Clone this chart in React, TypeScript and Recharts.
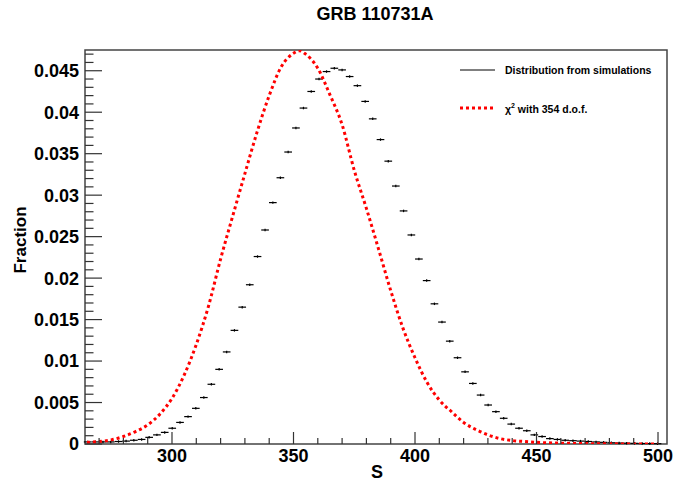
import React from "react";
import {
  ComposedChart,
  Line,
  Scatter,
  ErrorBar,
  XAxis,
  YAxis,
  ReferenceArea,
} from "recharts";

// simulated distribution, bin centres and fractions
const S_BINS = [
  265.3, 268.5, 271.6, 274.8, 278.0, 281.1, 284.3, 287.5, 290.6, 293.8, 297.0, 300.1,
  303.3, 306.6, 309.8, 313.1, 316.2, 319.4, 322.5, 325.7, 328.9, 332.0, 335.2, 338.3,
  341.5, 344.6, 347.8, 351.0, 354.1, 357.3, 360.5, 363.6, 366.8, 370.0, 373.1, 376.3,
  379.5, 382.6, 385.8, 389.0, 392.1, 395.3, 398.5, 401.6, 404.8, 408.0, 411.1, 414.3,
  417.5, 420.6, 423.8, 427.0, 430.1, 433.3, 436.5, 439.6, 442.8, 446.0, 449.1, 452.3,
  455.5, 458.6, 461.8, 465.0, 468.1, 471.3, 474.5, 477.6, 480.8, 484.0, 487.1, 490.3,
  493.5, 496.6, 499.8,
];
const SIM_FRAC = [
  0.00025, 0.00025, 0.00025, 0.00025, 0.0003, 0.00035, 0.00045, 0.00055, 0.0008, 0.0011, 0.0014, 0.0019,
  0.0026, 0.0033, 0.0043, 0.0056, 0.0072, 0.009, 0.0111, 0.0137, 0.0165, 0.0192, 0.0226, 0.0258,
  0.0291, 0.0321, 0.0352, 0.0381, 0.0405, 0.0425, 0.044, 0.0449, 0.0453, 0.0451, 0.0443, 0.0432,
  0.0413, 0.0392, 0.0367, 0.0341, 0.0311, 0.0281, 0.0252, 0.0223, 0.0197, 0.0169, 0.0147, 0.0124,
  0.0104, 0.0087, 0.0073, 0.0059, 0.0047, 0.0039, 0.0031, 0.0024, 0.0019, 0.0016, 0.0011, 0.0009,
  0.00065, 0.00055, 0.00045, 0.0004, 0.00035, 0.0003, 0.00025, 0.0002, 0.00015, 0.00012, 0.0001, 0.00008,
  0.00006, 0.00005, 0.00004,
];
const BIN_HALF = 1.58;
const SIM_ERR = 0.00015;

// chi2 curve with 354 d.o.f.
const CHI_S = [
  265, 270, 275, 280, 285, 290, 295, 300, 305, 310, 315, 320, 325, 330, 335, 340, 345, 350, 352.5,
  355, 360, 365, 370, 375, 380, 385, 390, 395, 400, 405, 410, 415, 420, 425, 430, 435, 440,
  445, 450, 460, 470, 480, 490, 500,
];
const CHI_FRAC = [
  0.0002, 0.0003, 0.0005, 0.0009, 0.0015, 0.0023, 0.0036, 0.0055, 0.0083, 0.012, 0.0166, 0.0223,
  0.0275, 0.0326, 0.0376, 0.042, 0.0455, 0.0471, 0.0474,
  0.047, 0.0453, 0.0421, 0.0385, 0.033, 0.0284,
  0.0235, 0.0185, 0.014, 0.0104, 0.0074, 0.0053, 0.0039, 0.0026, 0.00175, 0.0011, 0.00065, 0.00042,
  0.0003, 0.0002, 0.0001, 0.00005, 0.00002, 0.00001, 0,
];

const X_TICKS = [270, 280, 290, 300, 310, 320, 330, 340, 350, 360, 370, 380, 390, 400, 410, 420, 430, 440, 450, 460, 470, 480, 490, 500];
const X_DOMAIN = [264.2, 503.7];
const Y_DOMAIN = [0, 0.0475];

const FONT = '"Liberation Sans", Arial, sans-serif';

const simRows = S_BINS.map((s, i) => ({ s, frac: SIM_FRAC[i], xErr: BIN_HALF, yErr: SIM_ERR }));
const chiRows = CHI_S.map((s, i) => ({ s, chi: CHI_FRAC[i] }));

const yTicks: number[] = [];
for (let i = 0; i <= 47; i++) yTicks.push(i / 1000);

const XTick = (props: any) => {
  const { x, y, payload } = props;
  const major = payload.value % 50 === 0;
  return (
    <g>
      <line x1={x} x2={x} y1={y} y2={y - (major ? 12 : 6)} stroke="#333" strokeWidth={1.2} />
      {major && (
        <text x={x} y={y + 18} textAnchor="middle" fontFamily={FONT} fontWeight="bold" fontSize={18} fill="#000">
          {payload.value}
        </text>
      )}
    </g>
  );
};

const YTick = (props: any) => {
  const { x, y, payload } = props;
  const m = Math.round(payload.value * 1000);
  const major = m % 5 === 0;
  return (
    <g>
      <line x1={x} x2={x + (major ? 17 : 8.5)} y1={y} y2={y} stroke="#333" strokeWidth={1.2} />
      {major && (
        <text x={x - 6} y={y + 6.4} textAnchor="end" fontFamily={FONT} fontWeight="bold" fontSize={18} fill="#000">
          {m === 0 ? "0" : String(m / 1000)}
        </text>
      )}
    </g>
  );
};

const LegendBox = () => (
  <div
    style={{
      position: "absolute",
      left: 455,
      top: 60,
      fontFamily: FONT,
      fontWeight: "bold",
      fontSize: 10.5,
      color: "#000",
      width: 215,
    }}
  >
    <div style={{ display: "flex", alignItems: "center", height: 20 }}>
      <svg width={50} height={10}>
        <line x1={5} x2={40} y1={5} y2={5} stroke="#000" strokeWidth={1} />
      </svg>
      <span>Distribution from simulations</span>
    </div>
    <div style={{ display: "flex", alignItems: "center", height: 20, marginTop: 18 }}>
      <svg width={50} height={10}>
        <line x1={5} x2={39} y1={5} y2={5} stroke="#ff0000" strokeWidth={3} strokeDasharray="3 3" />
      </svg>
      <span>
        χ<sup style={{ fontSize: 7 }}>2</sup> with 354 d.o.f.
      </span>
    </div>
  </div>
);

export default function App() {
  return (
    <div style={{ position: "absolute", left: 0, top: 0, width: 688, height: 487, background: "#fff" }}>
      <div
        style={{
          position: "absolute",
          left: 375,
          top: 4,
          transform: "translateX(-50%)",
          fontFamily: FONT,
          fontWeight: "bold",
          fontSize: 18,
          lineHeight: "20px",
          whiteSpace: "nowrap",
        }}
      >
        GRB 110731A
      </div>
      <ComposedChart width={688} height={487} margin={{ top: 50, right: 21, bottom: 0, left: 0 }}>
        <XAxis
          dataKey="s"
          type="number"
          domain={X_DOMAIN}
          allowDataOverflow
          ticks={X_TICKS}
          interval={0}
          height={43}
          axisLine={false}
          tickLine={false}
          tickSize={0}
          tickMargin={0}
          tick={<XTick />}
        />
        <YAxis
          type="number"
          domain={Y_DOMAIN}
          allowDataOverflow
          ticks={yTicks}
          interval={0}
          width={85}
          axisLine={false}
          tickLine={false}
          tickSize={0}
          tickMargin={0}
          tick={<YTick />}
        />
        <ReferenceArea
          x1={X_DOMAIN[0]}
          x2={X_DOMAIN[1]}
          y1={Y_DOMAIN[0]}
          y2={Y_DOMAIN[1]}
          fill="none"
          fillOpacity={0}
          stroke="#444"
          strokeWidth={1.5}
        />
        <Scatter
          data={simRows}
          dataKey="frac"
          isAnimationActive={false}
          shape={() => <g />}
        >
          <ErrorBar dataKey="xErr" direction="x" width={0} stroke="#000" strokeWidth={1.2} isAnimationActive={false} />
          <ErrorBar dataKey="yErr" direction="y" width={0} stroke="#000" strokeWidth={1.2} isAnimationActive={false} />
        </Scatter>
        <Line
          data={chiRows}
          dataKey="chi"
          type="monotone"
          stroke="#ff0000"
          strokeWidth={3}
          strokeDasharray="3 3"
          dot={false}
          activeDot={false}
          isAnimationActive={false}
        />
      </ComposedChart>
      <LegendBox />
      <div
        style={{
          position: "absolute",
          left: 21,
          top: 240,
          transform: "translate(-50%, -50%) rotate(-90deg)",
          fontFamily: FONT,
          fontWeight: "bold",
          fontSize: 17,
          whiteSpace: "nowrap",
        }}
      >
        Fraction
      </div>
      <div
        style={{
          position: "absolute",
          left: 377,
          top: 472,
          transform: "translate(-50%, -50%)",
          fontFamily: FONT,
          fontWeight: "bold",
          fontSize: 18,
        }}
      >
        S
      </div>
    </div>
  );
}
